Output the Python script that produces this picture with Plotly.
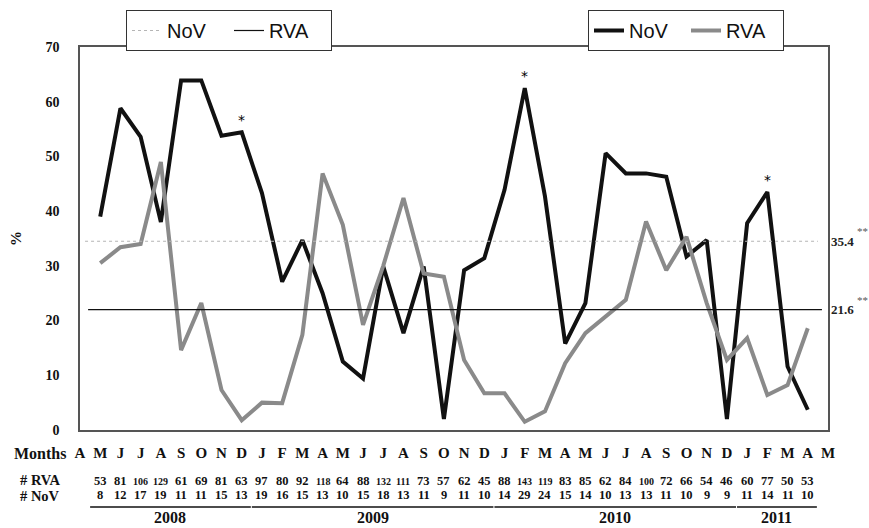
import plotly.graph_objects as go

months = ["A","M","J","J","A","S","O","N","D",
          "J","F","M","A","M","J","J","A","S","O","N","D",
          "J","F","M","A","M","J","J","A","S","O","N","D",
          "J","F","M","A","M"]

nov_pct = [39.0, 58.8, 53.6, 38.0, 63.9, 63.9, 53.8, 54.4,
           43.3, 27.1, 34.7, 25.0, 12.5, 9.4, 29.9, 17.7, 29.9, 2.0, 29.2, 31.4,
           43.9, 62.5, 42.7, 15.8, 23.2, 50.6, 46.9, 46.9, 46.3, 31.7, 34.7, 2.0,
           37.8, 43.5, 11.6, 3.7]
rva_pct = [30.5, 33.4, 34.0, 49.0, 14.6, 23.2, 7.3, 1.8,
           5.0, 4.9, 17.4, 46.9, 37.5, 19.2, 30.0, 42.4, 28.6, 28.0, 12.8, 6.7,
           6.7, 1.5, 3.4, 12.2, 17.7, 20.7, 23.8, 38.1, 29.2, 35.3, 23.2, 12.8,
           16.8, 6.4, 8.2, 18.6]

n_rva = [53, 81, 106, 129, 61, 69, 81, 63,
         97, 80, 92, 118, 64, 88, 132, 111, 73, 57, 62, 45,
         88, 143, 119, 83, 85, 62, 84, 100, 72, 66, 54, 46,
         60, 77, 50, 53]
n_nov = [8, 12, 17, 19, 11, 11, 15, 13,
         19, 16, 15, 13, 10, 15, 18, 13, 11, 9, 11, 10,
         14, 29, 24, 15, 14, 10, 13, 13, 11, 10, 9, 9,
         11, 14, 11, 10]

years = ["2008", "2009", "2010", "2011"]
year_months = [8, 12, 12, 4]

ref_labels = ["35.4", "21.6"]
ref_values = [34.5, 22.0]
star_months = [8, 22, 34]  # 1-based data positions flagged with *

serif = "Liberation Serif"
sans = "Liberation Sans"

x_idx = list(range(1, len(nov_pct) + 1))

fig = go.Figure()

fig.add_trace(go.Scatter(x=x_idx, y=nov_pct, mode="lines", name="NoV",
                         line=dict(color="#111111", width=4), legend="legend"))
fig.add_trace(go.Scatter(x=x_idx, y=rva_pct, mode="lines", name="RVA",
                         line=dict(color="#8a8a8a", width=4), legend="legend"))

fig.add_trace(go.Scatter(x=[0.25, 36.5], y=[ref_values[0]] * 2, mode="lines", name="NoV",
                         line=dict(color="#b5b5b5", width=1.2, dash="dot"), legend="legend2"))
fig.add_trace(go.Scatter(x=[0.4, 36.7], y=[ref_values[1]] * 2, mode="lines", name="RVA",
                         line=dict(color="#111111", width=1.2), legend="legend2"))

PL, PR, PT, PB = 80, 828, 47, 430
PH = PB - PT
PW = PR - PL


def py(px):
    return (PB - px) / PH


ann = []
for i in star_months:
    ann.append(dict(x=i, y=nov_pct[i - 1], xref="x", yref="y", text="*", showarrow=False,
                    yanchor="bottom", yshift=2, font=dict(family="DejaVu Sans", size=14, color="black")))
for lab, v in zip(ref_labels, ref_values):
    ann.append(dict(x=1.0, y=v, xref="paper", yref="y", text=f"<b>{lab}</b>", showarrow=False,
                    xanchor="left", xshift=1, font=dict(family=serif, size=13, color="#222222")))
    ann.append(dict(x=1.0, y=v, xref="paper", yref="y", text="**", showarrow=False,
                    xanchor="left", xshift=27, yshift=10, font=dict(family=serif, size=11, color="#555555")))
row_specs = [("<b>Months</b>", 453, 16), ("<b># RVA</b>", 480, 14.5), ("<b># NoV</b>", 496, 14.5)]
for txt, ypx, fs in row_specs:
    ann.append(dict(x=(40 - PL) / PW, y=py(ypx), xref="paper", yref="paper", text=txt,
                    showarrow=False, xanchor="center", yanchor="middle",
                    font=dict(family=serif, size=fs, color="#111111")))
for i, (r, n) in enumerate(zip(n_rva, n_nov), start=1):
    rs = str(r)
    ann.append(dict(x=i, y=py(481), xref="x", yref="paper", text=f"<b>{rs}</b>",
                    showarrow=False, yanchor="middle",
                    font=dict(family=serif, size=10 if len(rs) > 2 else 12.5, color="#111111")))
    ann.append(dict(x=i, y=py(495), xref="x", yref="paper", text=f"<b>{n}</b>",
                    showarrow=False, yanchor="middle",
                    font=dict(family=serif, size=12.5, color="#111111")))

shapes = []
start = 1
for yr, cnt in zip(years, year_months):
    end = start + cnt - 1
    x0 = start - 0.5
    x1 = end + 0.45
    shapes.append(dict(type="line", xref="x", yref="paper", x0=x0, x1=x1,
                       y0=py(507), y1=py(507), line=dict(color="#111111", width=1.5)))
    ann.append(dict(x=(x0 + x1) / 2, y=py(517), xref="x", yref="paper",
                    text=f"<b>{yr}</b>", showarrow=False, yanchor="middle",
                    font=dict(family=serif, size=16, color="#111111")))
    start = end + 1

fig.update_layout(
    width=869, height=528,
    margin=dict(l=PL, r=869 - PR, t=PT, b=528 - PB, autoexpand=False),
    paper_bgcolor="white", plot_bgcolor="white",
    showlegend=True,
    legend=dict(orientation="h", x=(588 - PL) / PW, y=py(10), xanchor="left", yanchor="top",
                bordercolor="#333333", borderwidth=1, bgcolor="white",
                font=dict(family=sans, size=20, color="#111111"), itemwidth=30, entrywidth=52,
                tracegroupgap=0),
    legend2=dict(orientation="h", x=(126 - PL) / PW, y=py(10), xanchor="left", yanchor="top",
                 bordercolor="#333333", borderwidth=1, bgcolor="white",
                 font=dict(family=sans, size=20, color="#111111"), itemwidth=30, entrywidth=57,
                 tracegroupgap=0),
    xaxis=dict(range=[0, 37], tickmode="array", tickvals=list(range(len(months))),
               ticktext=[f"<b>{m}</b>" for m in months],
               showgrid=False, zeroline=False, showline=True, mirror=True, linecolor="#555555", linewidth=1.5,
               ticks="", tickfont=dict(family=serif, size=15, color="#111111"), tickangle=0,
               ticklabelstandoff=8),
    yaxis=dict(range=[0, 70], tickmode="array", tickvals=list(range(0, 71, 10)),
               ticktext=[f"<b>{v}</b>" for v in range(0, 71, 10)],
               showgrid=False, zeroline=False, showline=True, mirror=True, linecolor="#555555", linewidth=1.5,
               ticks="", tickfont=dict(family=serif, size=14, color="#111111"), ticklabelstandoff=16,
               title=dict(text="<b>%</b>", font=dict(family=serif, size=15, color="#111111"), standoff=20)),
    annotations=ann,
    shapes=shapes,
)

fig.write_html("out.html", config={"displayModeBar": False},
               post_script="document.body.style.margin='0';document.body.style.overflow='hidden';")
